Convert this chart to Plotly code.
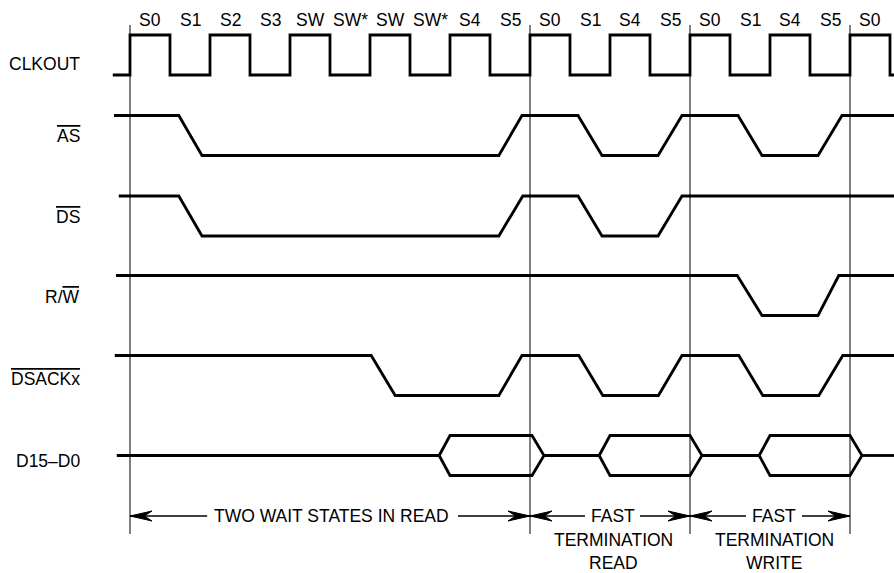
import plotly.graph_objects as go

# ---------------- data ----------------
states = ["S0", "S1", "S2", "S3", "SW", "SW*", "SW", "SW*", "S4", "S5",
          "S0", "S1", "S4", "S5", "S0", "S1", "S4", "S5", "S0"]
clk_levels = [1, 0, 1, 0, 1, 0, 1, 0, 1, 0, 1, 0, 1, 0, 1, 0, 1, 0, 1]

as_t = [-0.40, 1.22, 1.80, 9.22, 9.80, 11.20, 11.80, 13.20, 13.80, 15.20, 15.80, 17.20, 17.80, 19.10]
as_v = [1, 1, 0, 0, 1, 1, 0, 0, 1, 1, 0, 0, 1, 1]

ds_t = [-0.28, 1.22, 1.80, 9.22, 9.82, 11.20, 11.80, 13.20, 13.80, 19.10]
ds_v = [1, 1, 0, 0, 1, 1, 0, 0, 1, 1]

rw_t = [-0.35, 15.18, 15.80, 17.20, 17.72, 19.10]
rw_v = [1, 1, 0, 0, 1, 1]

dsack_t = [-0.38, 6.03, 6.63, 9.22, 9.80, 11.22, 11.82, 13.21, 13.80, 15.22, 15.82, 17.22, 17.82, 19.10]
dsack_v = [1, 1, 0, 0, 1, 1, 0, 0, 1, 1, 0, 0, 1, 1]

data_start_t = -0.33
data_end_t = 19.10
data_valid = [(8.00, 10.05), (12.00, 14.00), (16.00, 18.00)]

boundaries = [0, 10, 14, 18]

signal_names = ["CLKOUT",
                '<span style="text-decoration:overline">AS</span>',
                '<span style="text-decoration:overline">DS</span>',
                'R/<span style="text-decoration:overline">W</span>',
                '<span style="text-decoration:overline">DSACKx</span>',
                "D15–D0"]

spans = [(0, 10), (10, 14), (14, 18)]
span_left_tail = [1.93, 11.375, 15.40]
span_right_tail = [8.20, 12.75, 16.80]
span_text_x = [5.03, 12.08, 16.10]
span_texts = [["TWO WAIT STATES IN READ"],
              ["FAST", "TERMINATION", "READ"],
              ["FAST", "TERMINATION", "WRITE"]]

# ---------------- style / layout ----------------
W, H = 894, 573
PX_PER_T = 40.0
T0_PX = 130.0
x_range = [-T0_PX / PX_PER_T, (W - T0_PX) / PX_PER_T]

lane_low = [75, 155.5, 236, 315.5, 395.5, 475.5]
swing = 40
label_y = [64, 136, 217, 297, 379, 461]
label_x = (82 - T0_PX) / PX_PER_T
state_label_y = 20
bound_top, bound_bot = 25, 534
arrow_y = 516
text_line_y = [516, 540, 563]

FONT = "Liberation Sans, Arial, sans-serif"
FS = 17.5
LW = 2.8

def lvl(lane, v):
    return lane_low[lane] - swing * v

fig = go.Figure()

def add_line(x, y, width=LW, shape="linear", color="black"):
    fig.add_trace(go.Scatter(x=x, y=y, mode="lines", line=dict(color=color, width=width, shape=shape),
                             hoverinfo="skip", showlegend=False))

# boundaries (thin vertical lines)
bx, by = [], []
for b in boundaries:
    bx += [b, b, None]
    by += [bound_top, bound_bot, None]
add_line(bx, by, width=1)

# clock
clk_x = [-0.43] + list(range(len(clk_levels))) + [len(clk_levels), x_range[1]]
clk_y = [lvl(0, 0)] + [lvl(0, v) for v in clk_levels] + [lvl(0, 0), lvl(0, 0)]
add_line(clk_x, clk_y, shape="hv")

# control signals
for lane, (ts, vs) in enumerate([(as_t, as_v), (ds_t, ds_v), (rw_t, rw_v), (dsack_t, dsack_v)], start=1):
    add_line(ts, [lvl(lane, v) for v in vs])

# data bus
L_TAPER, R_TAPER = 0.27, 0.30
mid, top, bot = lvl(5, 0.5), lvl(5, 1), lvl(5, 0)
dx, dy = [], []
prev = data_start_t
for (a, b) in data_valid:
    dx += [prev, a - L_TAPER, None]
    dy += [mid, mid, None]
    dx += [a - L_TAPER, a, b, b + R_TAPER, b, a, a - L_TAPER, None]
    dy += [mid, top, top, mid, bot, bot, mid, None]
    prev = b + R_TAPER
dx += [prev, data_end_t]
dy += [mid, mid]
add_line(dx, dy)

# arrows
AL = 0.55  # head length (t units)
AH = 5     # half height (px)
ax_, ay_ = [], []
hx, hy = [], []
for (a, b), lt, rt in zip(spans, span_left_tail, span_right_tail):
    ax_ += [lt, a, None, rt, b, None]
    ay_ += [arrow_y, arrow_y, None, arrow_y, arrow_y, None]
    hx += [a, a + AL, a + 0.65 * AL, a + AL, a, None]
    hy += [arrow_y, arrow_y - AH, arrow_y, arrow_y + AH, arrow_y, None]
    hx += [b, b - AL, b - 0.65 * AL, b - AL, b, None]
    hy += [arrow_y, arrow_y - AH, arrow_y, arrow_y + AH, arrow_y, None]
add_line(ax_, ay_, width=1.3)
fig.add_trace(go.Scatter(x=hx, y=hy, mode="lines", fill="toself", fillcolor="black",
                         line=dict(color="black", width=1), hoverinfo="skip", showlegend=False))

annotations = []
for i, s in enumerate(states):
    annotations.append(dict(x=i + 0.5, y=state_label_y, text=s, showarrow=False,
                            xanchor="center", yanchor="middle", font=dict(family=FONT, size=FS, color="black")))
for name, yv in zip(signal_names, label_y):
    annotations.append(dict(x=label_x, y=yv, text=name, showarrow=False,
                            xanchor="right", yanchor="middle", font=dict(family=FONT, size=FS, color="black")))
for tx, lines in zip(span_text_x, span_texts):
    for line_text, yv in zip(lines, text_line_y):
        annotations.append(dict(x=tx, y=yv, text=line_text, showarrow=False,
                                xanchor="center", yanchor="middle", font=dict(family=FONT, size=FS, color="black")))

fig.update_layout(
    width=W, height=H,
    margin=dict(l=0, r=0, t=0, b=0),
    paper_bgcolor="white", plot_bgcolor="white",
    showlegend=False,
    xaxis=dict(range=x_range, visible=False, fixedrange=True),
    yaxis=dict(range=[H, 0], visible=False, fixedrange=True),
    annotations=annotations,
)

fig.write_html("out.html", config={"displayModeBar": False},
               post_script="document.body.style.margin='0px';document.body.style.overflow='hidden';")
